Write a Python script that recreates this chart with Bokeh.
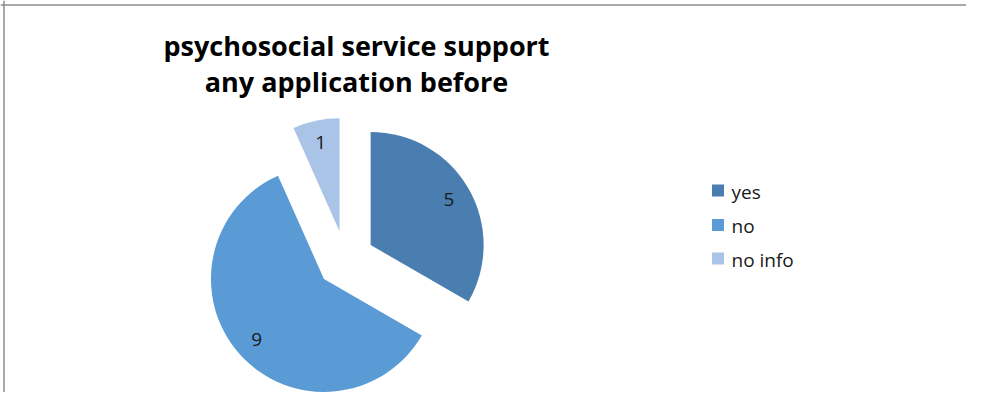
import math
from bokeh.plotting import figure
from bokeh.models import Range1d, Span
from bokeh.core.properties import value
from bokeh.embed import file_html
from bokeh.resources import INLINE

# data
categories = ["yes", "no", "no info"]
counts = [5, 9, 1]
colors = ["#4A7EB1", "#5B9BD5", "#A9C4E6"]
title_lines = ["psychosocial service support", "any application before"]

W, H = 966, 392
p = figure(width=W, height=H, output_backend="svg", toolbar_location=None,
           x_range=Range1d(0, W), y_range=Range1d(0, H),
           min_border=0, outline_line_color=None)
p.axis.visible = False
p.grid.visible = False
p.background_fill_color = "white"
p.border_fill_color = "white"

def Y(py):
    return H - py

# frame lines (left and top)
p.add_layout(Span(location=3.5, dimension="height", line_color="#8C8C8C", line_width=1.5))
p.add_layout(Span(location=Y(4.5), dimension="width", line_color="#8C8C8C", line_width=1.5))

cx, cy = 345, Y(259)
r = 113
explode = 29
total = sum(counts)
FONT = value("Open Sans")

cum = 0
for cat, c, col in zip(categories, counts, colors):
    a0 = cum / total * 360.0
    a1 = (cum + c) / total * 360.0
    cum += c
    mid = 90 - (a0 + a1) / 2
    th = math.radians(mid)
    ox = cx + explode * math.cos(th)
    oy = cy + explode * math.sin(th)
    p.wedge(x=[ox], y=[oy], radius=r, start_angle=[math.radians(90 - a1)],
            end_angle=[math.radians(90 - a0)], fill_color=col, line_color=None)
    p.text(x=[ox + 0.8 * r * math.cos(th)], y=[oy + 0.8 * r * math.sin(th)], text=[str(c)],
           text_align="center", text_baseline="middle", text_font=FONT,
           text_font_size="19px", text_color="#1A1A1A")

# title
p.text(x=[356, 356], y=[Y(45), Y(81)], text=title_lines, text_align="center",
       text_baseline="middle", text_font=FONT, text_font_size="27px",
       text_font_style="bold", text_color="#000000")

# legend
leg_sq = [190, 224.5, 258]
for cat, col, sy in zip(categories, colors, leg_sq):
    p.scatter(x=[717.5], y=[Y(sy)], marker="square", size=12, fill_color=col, line_color=None)
    p.text(x=[731], y=[Y(sy + 1)], text=[cat], text_align="left", text_baseline="middle",
           text_font=FONT, text_font_size="19px", text_color="#1A1A1A")

open("out.html", "w").write(file_html(p, INLINE))
